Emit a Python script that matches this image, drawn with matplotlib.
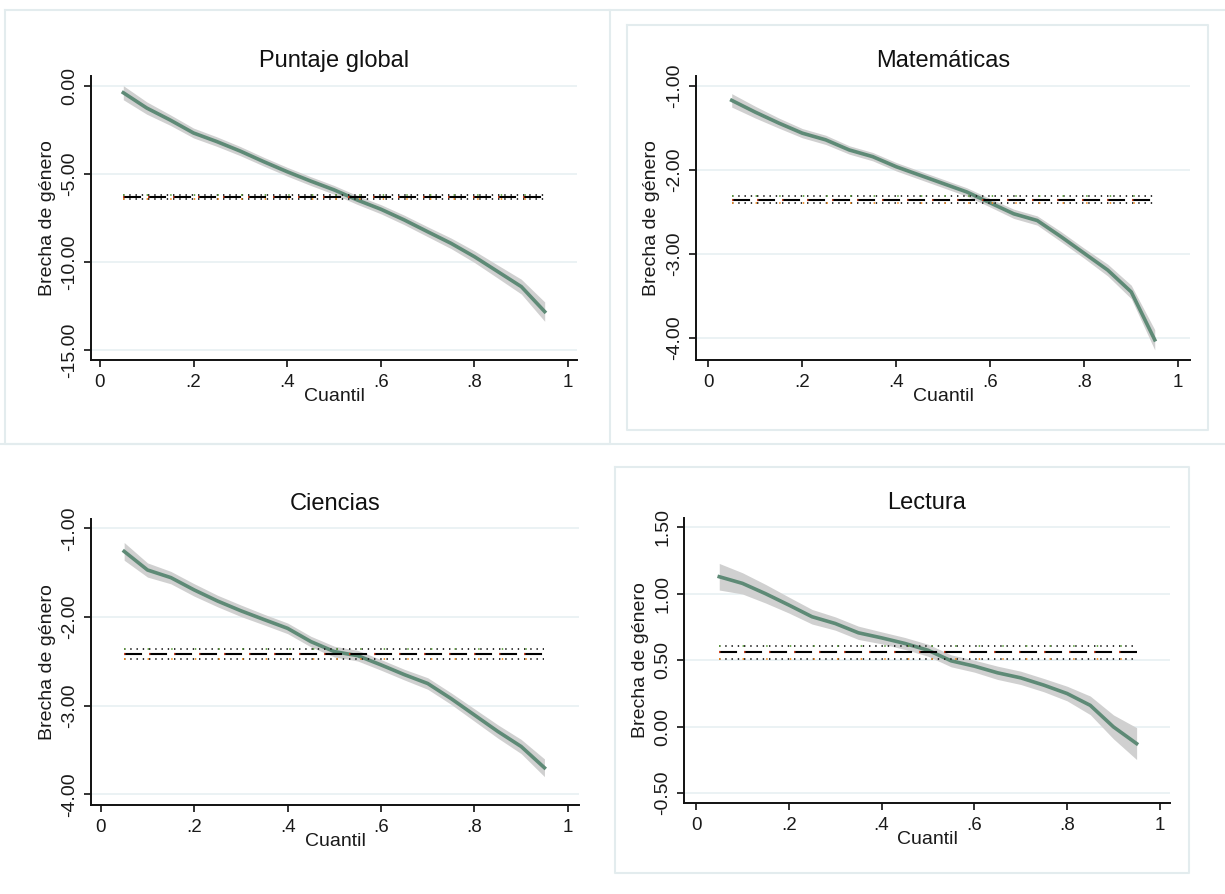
import matplotlib
matplotlib.use('Agg')
import matplotlib.pyplot as plt
from matplotlib.lines import Line2D

plt.rcParams['font.family'] = ['Liberation Sans', 'DejaVu Sans']
plt.rcParams['lines.scale_dashes'] = False

# datos
cuantil = [0.05, 0.10, 0.15, 0.20, 0.25, 0.30, 0.35, 0.40, 0.45, 0.50,
           0.55, 0.60, 0.65, 0.70, 0.75, 0.80, 0.85, 0.90, 0.95]

global_b = [-0.38, -1.25, -1.93, -2.67, -3.16, -3.70, -4.30, -4.87, -5.40, -5.90,
            -6.48, -7.00, -7.61, -8.28, -8.94, -9.70, -10.55, -11.40, -12.82]
global_hw = [0.40, 0.35, 0.30, 0.28, 0.27, 0.26, 0.25, 0.25, 0.25, 0.25,
             0.25, 0.26, 0.27, 0.28, 0.30, 0.33, 0.37, 0.42, 0.55]

mate_b = [-1.17, -1.31, -1.44, -1.56, -1.64, -1.76, -1.84, -1.96, -2.06, -2.16,
          -2.26, -2.39, -2.52, -2.60, -2.79, -2.99, -3.19, -3.45, -4.02]
mate_hw = [0.08, 0.07, 0.06, 0.055, 0.055, 0.05, 0.05, 0.05, 0.05, 0.05,
           0.05, 0.05, 0.055, 0.055, 0.06, 0.06, 0.07, 0.08, 0.12]

cien_b = [-1.26, -1.47, -1.556, -1.695, -1.82, -1.93, -2.03, -2.128, -2.278, -2.39,
          -2.436, -2.54, -2.65, -2.75, -2.92, -3.105, -3.29, -3.46, -3.70]
cien_hw = [0.10, 0.08, 0.07, 0.07, 0.065, 0.065, 0.06, 0.06, 0.06, 0.06,
           0.06, 0.06, 0.06, 0.065, 0.065, 0.07, 0.075, 0.08, 0.10]

lect_b = [1.128, 1.078, 1.00, 0.915, 0.827, 0.776, 0.706, 0.668, 0.626, 0.575,
          0.495, 0.455, 0.405, 0.367, 0.312, 0.249, 0.16, -0.002, -0.128]
lect_hw = [0.10, 0.08, 0.07, 0.06, 0.055, 0.05, 0.05, 0.045, 0.045, 0.045,
           0.045, 0.045, 0.05, 0.05, 0.05, 0.055, 0.07, 0.09, 0.12]

# MCO: coeficiente y semiancho del IC
ols_b = [-6.30, -2.35, -2.417, 0.558]
ols_hw = [0.12, 0.045, 0.057, 0.048]

titles = ['Puntaje global', 'Matemáticas', 'Ciencias', 'Lectura']
yticks = [[0, -5, -10, -15], [-1, -2, -3, -4], [-1, -2, -3, -4], [1.5, 1.0, 0.5, 0.0, -0.5]]
ylims = [(-15.57, 0.57), (-4.26, -0.88), (-4.12, -0.895), (-0.575, 1.57)]
xticks = [0, 0.2, 0.4, 0.6, 0.8, 1]
xticklabels = ['0', '.2', '.4', '.6', '.8', '1']

W, H = 1225, 894
# cajas de los ejes en pixeles: izq, der, arriba, abajo
boxes = [(91, 577, 76, 360), (696, 1190, 76, 360), (91, 579, 519, 805), (684, 1170, 518, 803)]
xlims = [(-0.019, 1.019), (-0.026, 1.025), (-0.021, 1.024), (-0.026, 1.022)]

series = [(global_b, global_hw), (mate_b, mate_hw), (cien_b, cien_hw), (lect_b, lect_hw)]

fig = plt.figure(figsize=(W / 100, H / 100), dpi=100)
fig.patch.set_facecolor('white')

# marcos claros de cada panel
frame_c = '#e3ecee'
def fline(xs, ys):
    fig.add_artist(Line2D([x / W for x in xs], [1 - y / H for y in ys],
                          color=frame_c, lw=1.5, transform=fig.transFigure))
fline([5, 610, 610, 5, 5], [10, 10, 444, 444, 10])
fline([610, 1225], [10, 10])
fline([0, 1225], [444, 444])
fline([627, 1208, 1208, 627, 627], [25, 25, 430, 430, 25])
fline([615, 1189, 1189, 615, 615], [467, 467, 873, 873, 467])

green = '#5e8a76'
for i in range(4):
    l, r, t, b = boxes[i]
    ax = fig.add_axes([l / W, 1 - b / H, (r - l) / W, (b - t) / H])
    est, hw = series[i]
    lo = [e - h for e, h in zip(est, hw)]
    hi = [e + h for e, h in zip(est, hw)]
    ax.fill_between(cuantil, lo, hi, color='#d0d0d0', lw=0, zorder=2)
    ax.plot(cuantil, est, color=green, lw=2.6, zorder=3)

    x0, x1 = cuantil[0], cuantil[-1]
    ob, oh = ols_b[i], ols_hw[i]
    ax.plot([x0, x1], [ob, ob], color='black', lw=1.5, dashes=(13, 5), zorder=4)
    ax.plot([x0, x1], [ob, ob], color='#d04020', lw=1.5, dashes=(1, 17), dash_capstyle='butt', zorder=4)
    ax.plot([x0, x1], [ob + oh, ob + oh], color='#222222', lw=1.3, dashes=(1, 3.5), zorder=4)
    ax.plot([x0, x1], [ob + oh, ob + oh], color='#60a040', lw=1.3, dashes=(1, 16), zorder=4)
    ax.plot([x0, x1], [ob - oh, ob - oh], color='#222222', lw=1.3, dashes=(1, 3.5), zorder=4)
    ax.plot([x0, x1], [ob - oh, ob - oh], color='#f08a20', lw=1.3, dashes=(1, 16), zorder=4)

    ax.set_xlim(xlims[i])
    ax.set_ylim(ylims[i])
    ax.set_xticks(xticks)
    ax.set_xticklabels(xticklabels, fontsize=13.5)
    ax.set_yticks(yticks[i])
    ax.set_yticklabels(['%.2f' % v for v in yticks[i]], rotation=90, va='center', fontsize=14)
    ax.grid(axis='y', color='#e8f0f2', lw=1.2, zorder=0)
    ax.set_axisbelow(True)
    for s in ['top', 'right']:
        ax.spines[s].set_visible(False)
    for s in ['left', 'bottom']:
        ax.spines[s].set_linewidth(1.4)
        ax.spines[s].set_color('#111111')
    ax.tick_params(direction='out', length=5, width=1.2, colors='#111111',
                   labelcolor='#1a1a1a')
    ax.tick_params(axis='x', pad=5)
    ax.tick_params(axis='y', pad=4)
    ax.set_title(titles[i], fontsize=17, pad=6.5, color='#111111')
    ax.set_xlabel('Cuantil', fontsize=14, labelpad=-2, color='#1a1a1a')
    ax.set_ylabel('Brecha de género', fontsize=14, color='#1a1a1a')
    ax.yaxis.set_label_coords(-0.072, 0.5)

fig.savefig('out.png', dpi=100)
